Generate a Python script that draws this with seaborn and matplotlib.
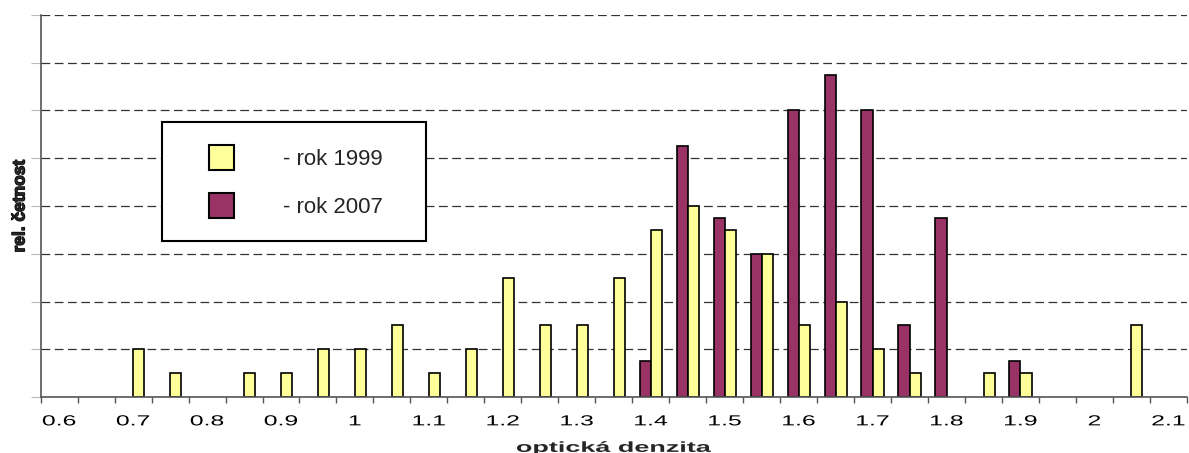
import numpy as np
import pandas as pd
import matplotlib
matplotlib.use("Agg")
import matplotlib.pyplot as plt
from matplotlib.patches import Patch, Rectangle
from matplotlib.patheffects import AbstractPathEffect, withStroke
from matplotlib.transforms import Affine2D
from matplotlib.ticker import FixedLocator
import seaborn as sns

# optical density classes (bin labels)
density = ["0.60", "0.65", "0.70", "0.75", "0.80", "0.85", "0.90", "0.95",
           "1.00", "1.05", "1.10", "1.15", "1.20", "1.25", "1.30", "1.35",
           "1.40", "1.45", "1.50", "1.55", "1.60", "1.65", "1.70", "1.75",
           "1.80", "1.85", "1.90", "1.95", "2.00", "2.05", "2.10"]

# relative frequency per class
freq_1999 = [0, 0, 2, 1, 0, 1, 1, 2, 2, 3, 1, 2, 5, 3, 3, 5,
             7, 8, 7, 6, 3, 4, 2, 1, 0, 1, 1, 0, 0, 3, 0]
freq_2007 = [0, 0, 0, 0, 0, 0, 0, 0, 0, 0, 0, 0, 0, 0, 0, 0,
             1.5, 10.5, 7.5, 6, 12, 13.5, 12, 3, 7.5, 0, 1.5, 0, 0, 0, 0]

tick_labels = ["0.6", "0.7", "0.8", "0.9", "1", "1.1", "1.2", "1.3",
               "1.4", "1.5", "1.6", "1.7", "1.8", "1.9", "2", "2.1"]

series = ["- rok 1999", "- rok 2007"]
colors = {"1999": "#FFFF99", "2007": "#993366"}


class WideText(AbstractPathEffect):
    """Horizontally widen text glyphs around their centre."""

    def __init__(self, sx):
        super().__init__()
        self.sx = sx

    def draw_path(self, renderer, gc, tpath, affine, rgbFace=None):
        ext = tpath.get_extents(affine)
        cx = 0.5 * (ext.x0 + ext.x1)
        aff = affine + Affine2D().translate(-cx, 0).scale(self.sx, 1).translate(cx, 0)
        renderer.draw_path(gc, tpath, aff, rgbFace)


sns.set_style("white")
plt.rcParams["font.family"] = ["Liberation Sans", "DejaVu Sans"]

df = pd.DataFrame({
    "denzita": density * 2,
    "rok": ["2007"] * len(density) + ["1999"] * len(density),
    "cetnost": freq_2007 + freq_1999,
})
df = df[df["cetnost"] > 0]

fig = plt.figure(figsize=(11.89, 4.53), dpi=100)
ax = fig.add_axes([0.0342, 0.1236, 0.964, 0.8433])

sns.barplot(data=df, x="denzita", y="cetnost", hue="rok",
            order=density, hue_order=["2007", "1999"], palette=colors,
            width=0.6, dodge=True, edgecolor="black", linewidth=1.2,
            errorbar=None, legend=False, saturation=1, ax=ax)

n = len(density)
ax.set_xlim(-0.5, n - 0.5)
ax.set_ylim(0, 16)

# labels every second class, tick marks on class boundaries
ax.set_xticks(np.arange(0, n, 2), tick_labels)
ax.xaxis.set_minor_locator(FixedLocator(np.arange(-0.5, n, 1.0)))
ax.tick_params(axis="x", which="major", length=0, pad=12.5, labelsize=10.5,
               colors="black")
ax.tick_params(axis="x", which="minor", length=4, width=1, color="#555555",
               direction="out", bottom=True)
for t in ax.get_xticklabels():
    t.set_path_effects([WideText(1.7)])

ax.set_yticks(np.arange(0, 17, 2))
ax.set_yticklabels([])
ax.tick_params(axis="y", which="major", length=7, width=0.8, color="#bbbbbb",
               direction="out", left=True)
ax.yaxis.grid(True, linestyle=(0, (7, 3.6)), linewidth=0.9, color="#333333")
ax.xaxis.grid(False)
ax.set_axisbelow(True)

for side in ("top", "right"):
    ax.spines[side].set_visible(False)
for side in ("left", "bottom"):
    ax.spines[side].set_color("#555555")
    ax.spines[side].set_linewidth(1.2)

xl = ax.set_xlabel("optická denzita", fontsize=10.5, fontweight="bold",
                   labelpad=9)
xl.set_path_effects([WideText(1.85)])
yl = ax.set_ylabel("rel. četnost", fontsize=12.5, fontweight="bold",
                   labelpad=-1)
yl.set_path_effects([withStroke(linewidth=0.9, foreground="black")])

# legend box
ax.add_patch(Rectangle((0.1058, 0.408), 0.2303, 0.312, transform=ax.transAxes,
                       facecolor="white", edgecolor="black", linewidth=1.5,
                       zorder=5))
handles = [Patch(facecolor=colors["1999"], edgecolor="black", linewidth=1.5),
           Patch(facecolor=colors["2007"], edgecolor="black", linewidth=1.5)]
leg = ax.legend(handles, series, loc="upper left",
                bbox_to_anchor=(0.1468, 0.6597), frameon=False, fontsize=16,
                handlelength=1.15, handleheight=1.35, handletextpad=2.2,
                labelspacing=1.03, borderpad=0, borderaxespad=0)
leg.set_zorder(6)

fig.savefig("out.png", dpi=100)
